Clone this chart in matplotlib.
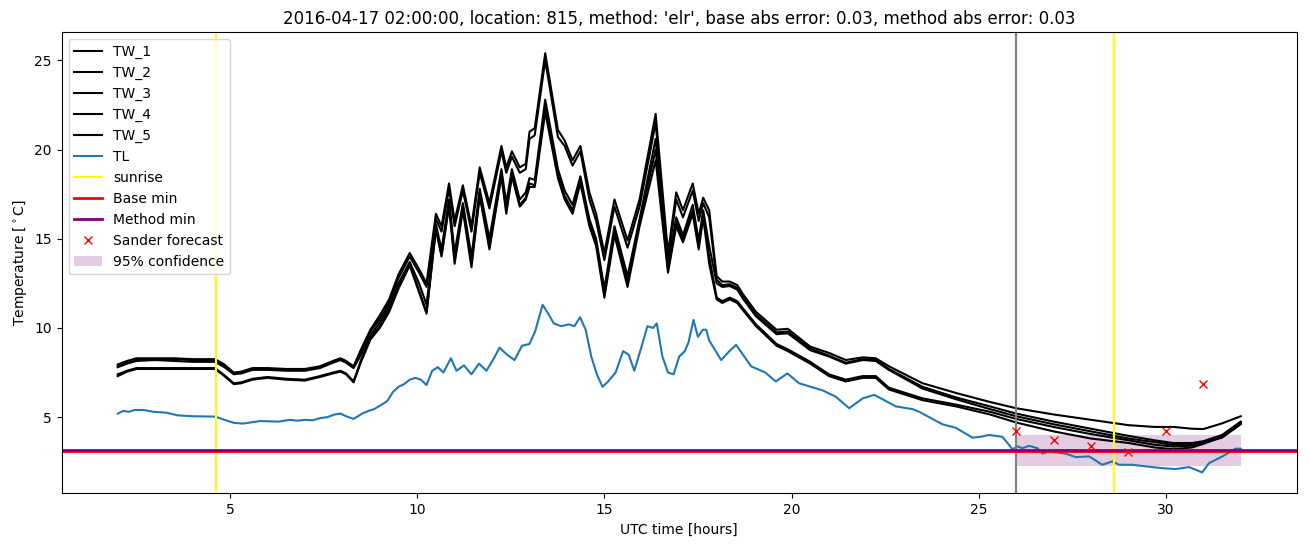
import numpy as np
import matplotlib
matplotlib.use('Agg')
import matplotlib.pyplot as plt

title = "2016-04-17 02:00:00, location: 815, method: 'elr', base abs error: 0.03, method abs error: 0.03"

# wet-bulb / surface temperatures
tw_hours = [2.0, 2.25, 2.5, 3, 3.5, 4, 4.6, 4.85, 5.1, 5.3, 5.6, 6.0, 6.5, 7.0, 7.4, 7.75, 7.95, 8.1,
            8.3, 8.5, 8.75, 9.0, 9.25, 9.5, 9.8, 10.05, 10.25, 10.5, 10.65, 10.85, 11.0, 11.22, 11.45,
            11.67, 11.93, 12.25, 12.38, 12.53, 12.74, 12.9, 13.0, 13.14, 13.42, 13.76, 13.94, 14.15,
            14.36, 14.6, 14.78, 15.0, 15.27, 15.62, 15.94, 16.37, 16.7, 16.92, 17.1, 17.36, 17.52,
            17.64, 17.8, 18.0, 18.15, 18.35, 18.55, 18.7, 19.05, 19.6, 19.9, 20.5, 21.0, 21.45, 21.9,
            22.25, 22.6, 23.5, 24.4, 25.3, 26.0, 27.0, 28.0, 29.0, 29.7, 30.2, 30.7, 31.0, 31.5, 32.0]

tw_1 = [7.95, 8.15, 8.3, 8.3, 8.3, 8.25, 8.25, 7.95, 7.5, 7.55, 7.75, 7.75, 7.7, 7.7, 7.85, 8.15, 8.3, 8.15,
        7.85, 8.8, 9.9, 10.7, 11.6, 13.0, 14.2, 13.3, 12.5, 16.4, 15.7, 18.1, 16.0, 18.0, 15.7,
        19.0, 17.0, 20.2, 19.0, 19.9, 19.0, 19.2, 21.0, 21.2, 25.4, 21.1, 20.5, 19.4,
        20.2, 17.6, 16.4, 14.2, 17.2, 14.9, 17.2, 22.0, 14.2, 17.6, 16.6, 18.1, 16.4,
        17.3, 16.6, 12.9, 12.6, 12.6, 12.4, 11.9, 10.9, 9.9, 9.95, 8.95, 8.6, 8.2, 8.35,
        8.3, 7.85, 6.9, 6.35, 5.85, 5.5, 5.15, 4.85, 4.55, 4.45, 4.45, 4.35, 4.33, 4.65, 5.05]

tw_2 = [7.85, 8.05, 8.2, 8.25, 8.25, 8.2, 8.2, 7.85, 7.45, 7.5, 7.7, 7.7, 7.65, 7.65, 7.8, 8.1, 8.25, 8.1,
        7.8, 8.7, 9.8, 10.5, 11.4, 12.8, 14.0, 13.1, 12.3, 16.1, 15.4, 17.8, 15.7, 17.7, 15.4,
        18.7, 16.7, 19.9, 18.7, 19.6, 18.7, 18.9, 20.6, 20.8, 25.0, 20.7, 20.2, 19.1,
        19.9, 17.2, 16.0, 13.8, 16.8, 14.5, 16.8, 21.5, 13.8, 17.2, 16.2, 17.7, 16.0,
        17.0, 16.2, 12.7, 12.4, 12.45, 12.25, 11.75, 10.75, 9.75, 9.8, 8.85, 8.45, 8.05, 8.25,
        8.2, 7.7, 6.7, 6.1, 5.6, 5.2, 4.75, 4.35, 3.95, 3.7, 3.55, 3.55, 3.65, 4.0, 4.75]

tw_3 = [7.8, 8.0, 8.15, 8.2, 8.15, 8.1, 8.1, 7.8, 7.4, 7.45, 7.65, 7.65, 7.6, 7.6, 7.75, 8.05, 8.2, 8.05,
        7.75, 8.5, 9.6, 10.3, 11.2, 12.5, 13.7, 12.5, 11.3, 15.8, 14.4, 17.2, 14.2, 17.0, 14.0,
        17.8, 15.0, 18.9, 17.0, 18.9, 17.2, 17.6, 18.4, 18.3, 22.8, 18.9, 17.7, 16.9,
        18.5, 16.1, 15.0, 12.2, 15.7, 12.9, 16.1, 20.6, 13.5, 16.2, 15.2, 16.9, 14.9,
        16.6, 14.6, 12.5, 12.3, 12.35, 12.15, 11.65, 10.65, 9.65, 9.7, 8.75, 8.4, 8.0, 8.2,
        8.15, 7.65, 6.6, 6.0, 5.45, 5.05, 4.6, 4.2, 3.8, 3.6, 3.45, 3.45, 3.6, 3.95, 4.7]

tw_4 = [7.4, 7.6, 7.75, 7.75, 7.75, 7.75, 7.75, 7.35, 6.9, 6.95, 7.15, 7.25, 7.15, 7.1, 7.3, 7.5, 7.6, 7.45,
        7.0, 8.2, 9.45, 10.1, 11.0, 12.3, 13.6, 12.1, 10.9, 15.6, 14.1, 17.0, 13.8, 16.8, 13.6,
        17.5, 14.6, 18.6, 16.6, 18.6, 16.9, 17.3, 18.1, 18.0, 22.4, 18.6, 17.4, 16.6,
        18.3, 15.9, 14.8, 11.9, 15.4, 12.6, 15.9, 20.0, 13.3, 15.9, 15.0, 16.6, 14.6,
        16.4, 14.0, 11.7, 11.5, 11.7, 11.5, 11.1, 10.2, 9.1, 8.8, 8.1, 7.4, 7.1, 7.3,
        7.3, 6.65, 6.05, 5.7, 5.3, 4.9, 4.45, 4.05, 3.7, 3.45, 3.35, 3.4, 3.55, 3.85, 4.6]

tw_5 = [7.3, 7.55, 7.7, 7.7, 7.7, 7.7, 7.7, 7.3, 6.85, 6.9, 7.1, 7.2, 7.1, 7.05, 7.25, 7.45, 7.55, 7.4,
        6.95, 8.1, 9.35, 10.0, 10.9, 12.2, 13.5, 12.0, 10.8, 15.5, 14.0, 16.8, 13.6, 16.6, 13.4,
        17.4, 14.4, 18.5, 16.4, 18.5, 16.8, 17.2, 17.9, 17.9, 22.1, 18.4, 17.2, 16.4,
        18.1, 15.7, 14.6, 11.7, 15.2, 12.3, 15.7, 19.4, 13.1, 15.7, 14.8, 16.4, 14.4,
        16.2, 13.6, 11.6, 11.4, 11.6, 11.4, 11.0, 10.1, 9.0, 8.7, 8.0, 7.3, 7.0, 7.2,
        7.2, 6.55, 5.95, 5.6, 5.15, 4.7, 4.2, 3.8, 3.55, 3.3, 3.2, 3.3, 3.5, 3.9, 4.65]

# air temperature
tl_hours = [2.0, 2.15, 2.3, 2.45, 2.7, 2.95, 3.3, 3.6, 4.0, 4.6, 4.85, 5.1, 5.35, 5.6, 5.8, 6.3, 6.6, 6.8,
            7.0, 7.2, 7.4, 7.6, 7.8, 7.95, 8.1, 8.3, 8.55, 8.7, 8.85, 9.05, 9.2, 9.35, 9.5, 9.65, 9.8,
            9.95, 10.1, 10.25, 10.4, 10.55, 10.7, 10.9, 11.05, 11.25, 11.45, 11.65, 11.85, 12.05, 12.2,
            12.4, 12.6, 12.8, 13.0, 13.15, 13.35, 13.5, 13.65, 13.85, 14.05, 14.2, 14.35, 14.5, 14.65,
            14.8, 14.95, 15.1, 15.3, 15.5, 15.65, 15.8, 16.0, 16.15, 16.3, 16.4, 16.55, 16.7, 16.85,
            17.0, 17.15, 17.25, 17.38, 17.5, 17.63, 17.72, 17.8, 18.12, 18.34, 18.52, 18.92, 19.3,
            19.58, 19.89, 20.2, 20.83, 21.18, 21.54, 21.9, 22.21, 22.79, 23.23, 23.41, 24.03, 24.39,
            24.83, 25.05, 25.28, 25.63, 25.77, 25.9, 26.04, 26.17, 26.35, 26.57, 26.7, 26.88, 27.33,
            27.59, 27.95, 28.3, 28.57, 28.75, 29.11, 29.46, 29.9, 30.26, 30.62, 30.97, 31.15, 31.51,
            31.86, 32.0]
tl = [5.2, 5.35, 5.3, 5.4, 5.4, 5.3, 5.25, 5.1, 5.05, 5.03, 4.85, 4.68, 4.64, 4.72, 4.78, 4.75, 4.85, 4.8,
      4.85, 4.82, 4.94, 5.0, 5.15, 5.2, 5.05, 4.9, 5.22, 5.35, 5.45, 5.7, 5.9, 6.4, 6.7, 6.85, 7.1,
      7.2, 7.1, 6.8, 7.6, 7.8, 7.5, 8.3, 7.6, 7.9, 7.4, 8.0, 7.6, 8.3, 8.9,
      8.5, 8.2, 9.0, 9.1, 9.8, 11.3, 10.8, 10.25, 10.1, 10.2, 10.1, 10.6, 9.9, 8.4,
      7.4, 6.7, 7.0, 7.5, 8.7, 8.5, 7.6, 9.0, 10.1, 10.0, 10.25, 8.4, 7.5, 7.4,
      8.4, 8.7, 9.2, 10.45, 9.5, 9.9, 9.9, 9.3, 8.2, 8.7, 9.05, 7.85, 7.5,
      7.0, 7.45, 6.9, 6.5, 6.15, 5.5, 6.05, 6.25, 5.6, 5.45, 5.3, 4.6, 4.4,
      3.85, 3.9, 4.0, 3.9, 3.55, 3.2, 3.36, 3.26, 3.39, 3.26, 2.95, 3.08, 2.95,
      2.76, 2.8, 2.33, 2.52, 2.33, 2.33, 2.24, 2.14, 2.09, 2.2, 1.9, 2.42, 2.8,
      3.23, 3.23]

sunrise = [4.62, 28.62]
forecast_time = 26
base_min = 3.10
method_min = 3.15
sander_hours = [26, 27, 28, 29, 30, 31]
sander_temp = [4.2, 3.73, 3.36, 3.02, 4.24, 6.87]
conf_hours = [26, 32]
conf_low = 2.24
conf_high = 4.01

fig = plt.figure(figsize=(13.1, 5.47), dpi=100)
ax = fig.add_axes([0.047, 0.098, 0.943, 0.843])

for i, tw in enumerate([tw_1, tw_2, tw_3, tw_4, tw_5]):
    ax.plot(tw_hours, tw, color='black', lw=1.5, label='TW_%d' % (i + 1))
ax.plot(tl_hours, tl, color='C0', lw=1.5, label='TL')
ax.axvline(sunrise[0], color='yellow', lw=1.5, label='sunrise')
ax.axvline(sunrise[1], color='yellow', lw=1.5)
ax.axvline(forecast_time, color='gray', lw=1.5)
ax.axhline(base_min, color='red', lw=2, label='Base min')
ax.axhline(method_min, color='purple', lw=2, label='Method min')
ax.plot(sander_hours, sander_temp, 'rx', label='Sander forecast')
ax.fill_between(conf_hours, conf_low, conf_high, color='purple', alpha=0.2, lw=0, label='95% confidence')

ax.set_xlabel('UTC time [hours]')
ax.set_ylabel(r'Temperature [$^\circ$C]')
ax.set_title(title)
ax.legend(loc='upper left')

fig.savefig('out.png', dpi=100)
